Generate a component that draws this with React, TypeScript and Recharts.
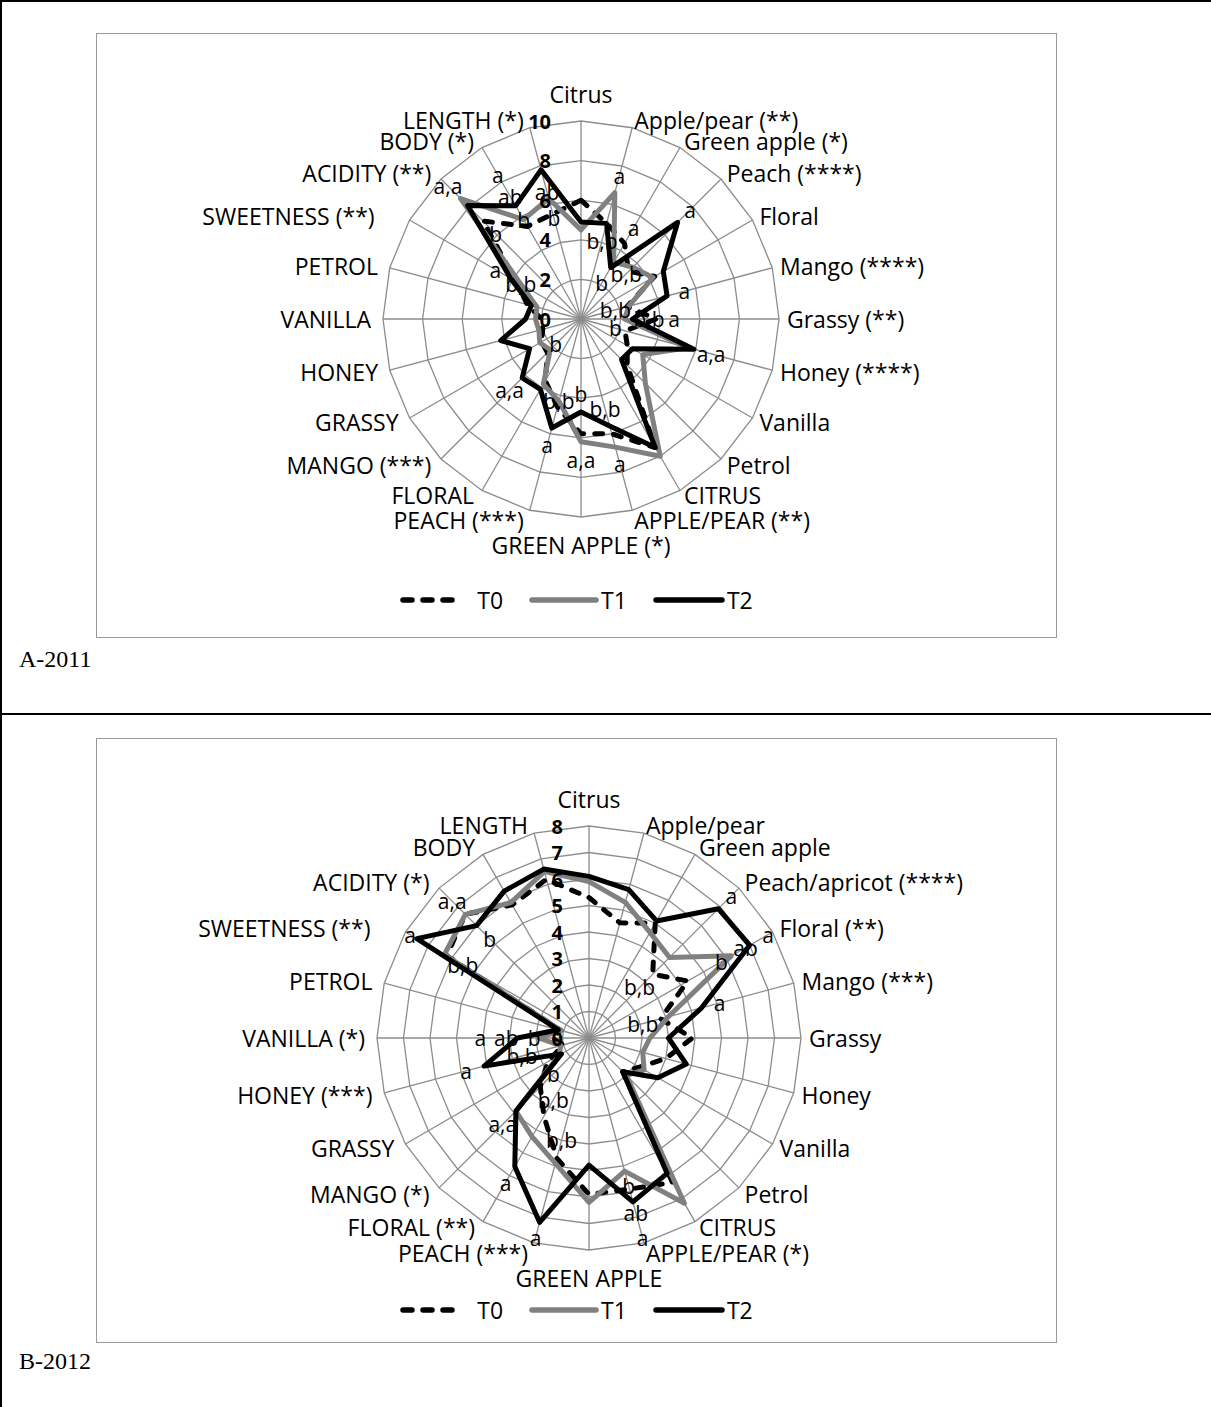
import React from 'react';
import { RadarChart, Radar, PolarGrid, PolarAngleAxis, PolarRadiusAxis, Legend } from 'recharts';

const FONT = "'Open Sans', sans-serif";

// ---- A-2011 ----
const AXES_2011 = ['Citrus', 'Apple/pear (**)', 'Green apple (*)', 'Peach (****)', 'Floral', 'Mango (****)', 'Grassy (**)', 'Honey (****)', 'Vanilla', 'Petrol', 'CITRUS', 'APPLE/PEAR (**)', 'GREEN APPLE (*)', 'PEACH (***)', 'FLORAL', 'MANGO (***)', 'GRASSY', 'HONEY', 'VANILLA', 'PETROL', 'SWEETNESS (**)', 'ACIDITY (**)', 'BODY (*)', 'LENGTH (*)'];
const T0_2011 = [6.0, 5.0, 4.4, 3.4, 4.3, 2.4, 3.8, 2.3, 2.7, 3.3, 7.5, 6.0, 5.8, 4.6, 3.6, 2.4, 2.3, 2.0, 2.0, 2.8, 3.8, 7.0, 5.4, 5.5];
const T1_2011 = [4.5, 6.6, 3.3, 3.7, 4.2, 2.5, 2.2, 5.6, 3.6, 4.6, 8.0, 6.7, 6.2, 4.3, 3.8, 2.2, 2.4, 2.2, 2.3, 2.3, 3.5, 8.6, 5.8, 6.3];
const T2_2011 = [4.9, 5.0, 3.0, 6.9, 4.8, 4.5, 2.6, 5.9, 3.0, 2.9, 7.5, 5.6, 4.7, 5.7, 4.1, 4.2, 3.0, 4.2, 2.8, 2.6, 4.1, 8.1, 6.6, 7.8];
const HI_2011 = ['', 'a', 'a', 'a', '', 'a', 'a', 'a,a', '', '', '', 'a', 'a,a', 'a', '', 'a,a', '', '', '', '', 'a', 'a,a', 'a', ''];
const MID_2011 = ['', '', '', '', '', '', '', '', '', '', '', '', '', '', '', '', '', '', '', '', '', '', 'ab', 'ab'];
const LO_2011 = ['', 'b,b', 'b', 'b,b', '', 'b,b', 'b,b', 'b', '', '', '', 'b,b', 'b', 'b,b', '', 'b', '', '', '', '', 'b,b', 'b', 'b', 'b'];
const TICKS_2011 = [0, 2, 4, 6, 8, 10];

// ---- B-2012 ----
const AXES_2012 = ['Citrus', 'Apple/pear', 'Green apple', 'Peach/apricot (****)', 'Floral (**)', 'Mango (***)', 'Grassy', 'Honey', 'Vanilla', 'Petrol', 'CITRUS', 'APPLE/PEAR (*)', 'GREEN APPLE', 'PEACH (***)', 'FLORAL (**)', 'MANGO (*)', 'GRASSY', 'HONEY (***)', 'VANILLA (*)', 'PETROL', 'SWEETNESS (**)', 'ACIDITY (*)', 'BODY', 'LENGTH'];
const T0_2012 = [5.3, 4.5, 5.0, 3.4, 4.3, 2.8, 3.9, 3.0, 2.2, 1.8, 6.3, 5.9, 5.9, 4.7, 3.4, 2.6, 1.8, 1.0, 1.4, 1.1, 6.2, 6.6, 5.8, 6.2];
const T1_2012 = [5.9, 5.3, 4.6, 4.3, 6.2, 3.1, 2.3, 2.1, 2.4, 2.0, 7.2, 5.2, 6.2, 4.9, 4.3, 3.9, 1.3, 1.1, 1.9, 1.1, 6.3, 6.6, 5.9, 6.5];
const T2_2012 = [6.1, 5.8, 5.1, 6.9, 7.0, 4.4, 3.0, 3.8, 3.0, 1.8, 5.9, 6.4, 4.8, 7.2, 5.6, 3.9, 1.2, 4.1, 2.7, 1.2, 7.5, 6.0, 6.4, 6.6];
const HI_2012 = ['', '', '', 'a', 'a', 'a', '', '', '', '', '', 'a', '', 'a', 'a', 'a,a', '', 'a', 'a', '', 'a', 'a,a', '', ''];
const MID_2012 = ['', '', '', '', 'ab', '', '', '', '', '', '', 'ab', '', '', '', '', '', '', 'ab', '', '', '', '', ''];
const LO_2012 = ['', '', '', 'b,b', 'b', 'b,b', '', '', '', '', '', 'b', '', 'b,b', 'b,b', 'b', '', 'b,b', 'b', '', 'b,b', 'b', '', ''];
const TICKS_2012 = [0, 1, 2, 3, 4, 5, 6, 7, 8];

type Box = { x: number; y: number; w: number; h: number };
const hit = (a: Box, b: Box) => Math.abs(a.x - b.x) * 2 < a.w + b.w && Math.abs(a.y - b.y) * 2 < a.h + b.h;
const letterBox = (txt: string, i: number, r: number, ppu: number, n: number): Box => {
  const th = (i * 2 * Math.PI) / n;
  return { x: Math.sin(th) * r * ppu, y: -Math.cos(th) * r * ppu, w: txt.length * 10 + 2, h: 17 };
};

// letter positions follow the series values: above the highest, below the lowest,
// low letters nudged outward when they would collide with another letter or a tick label
function buildRows(axes: string[], t0: number[], t1: number[], t2: number[], hi: string[], mid: string[], lo: string[], g: number, ceil: number, floor: number, ppu: number, ticks: number[], tickShift: number) {
  const n = axes.length;
  const step = 0.15 * (ceil / 8);
  const placed: Box[] = ticks.map((v) => ({ x: tickShift - 6 * String(v).length, y: -v * ppu, w: 12 * String(v).length, h: 18 }));
  const rows = axes.map((axis, i) => {
    const vals = [t0[i], t1[i], t2[i]];
    const mx = Math.max(...vals);
    const mn = Math.min(...vals);
    let hiPos = Math.min(ceil, mx + g);
    let midPos = 0;
    let loPos = Math.max(floor, mn - g);
    if (mid[i]) {
      if (hi[i]) {
        hiPos = Math.min(ceil, mx + 2 * g);
        midPos = hiPos - 1.4 * g;
      } else {
        midPos = mx - 1.3 * g;
      }
      loPos = midPos - 1.5 * g;
      placed.push(letterBox(mid[i], i, midPos, ppu, n));
    }
    if (hi[i]) placed.push(letterBox(hi[i], i, hiPos, ppu, n));
    return { axis, T0: t0[i], T1: t1[i], T2: t2[i], hiPos, midPos, loPos, hiText: hi[i], midText: mid[i], loText: lo[i] };
  });
  rows.forEach((row, i) => {
    if (!row.loText) return;
    const start = row.loPos;
    for (let k = 0; k < 14; k++) {
      const r = start + k * step;
      const b = letterBox(row.loText, i, r, ppu, n);
      if (!placed.some((p) => hit(p, b)) || k === 13) {
        row.loPos = r;
        placed.push(b);
        break;
      }
    }
  });
  return rows;
}

const rows2011 = buildRows(AXES_2011, T0_2011, T1_2011, T2_2011, HI_2011, MID_2011, LO_2011, 0.9, 9.7, 1.8, 198 / 10, TICKS_2011, -30);
const rows2012 = buildRows(AXES_2012, T0_2012, T1_2012, T2_2012, HI_2012, MID_2012, LO_2012, 0.7, 7.8, 1.3, 212 / 8, TICKS_2012, -26);

const AngleTick = (props: any) => {
  const { x, y, textAnchor, payload, index } = props;
  let dy = 0;
  let dx = 0;
  if (textAnchor === 'middle') dy = index === 0 ? -19 : 20;
  if (textAnchor === 'end') dx = index === 20 ? -28 : -4;
  // the stacked pairs near the bottom sit a little further apart
  if (index === 10 || index === 14) dy = -2;
  if (index === 11 || index === 13) dy = 2;
  return (
    <text x={x + dx} y={y + dy} textAnchor={textAnchor} dominantBaseline="central" fontFamily={FONT} fontSize={23} fill="#000">
      {payload.value}
    </text>
  );
};

const makeRadiusTick = (shift: number) => (props: any) => (
  <text x={props.x + shift} y={props.y} textAnchor="end" dominantBaseline="central" fontFamily={FONT} fontSize={20} fontWeight={700} fill="#000">
    {props.payload.value}
  </text>
);

const makeLetterDot = (textKey: string) => (p: any) => {
  const row = p.payload && p.payload.payload ? p.payload.payload : p.payload;
  const txt = row ? row[textKey] : '';
  if (!txt) return <g key={p.key} />;
  return (
    <text key={p.key} x={p.cx} y={p.cy} textAnchor="middle" dominantBaseline="central" fontFamily={FONT} fontSize={21} fill="#000">
      {txt}
    </text>
  );
};

const LegendContent = () => (
  <div style={{ display: 'flex', justifyContent: 'center', alignItems: 'center', fontFamily: FONT, fontSize: 23, color: '#000' }}>
    <svg width={66} height={10}>
      <line x1={4} y1={5} x2={62} y2={5} stroke="#000" strokeWidth={5.5} strokeDasharray="9 11" strokeLinecap="round" />
    </svg>
    <span style={{ marginLeft: 12, marginRight: 26 }}>T0</span>
    <svg width={70} height={10}>
      <line x1={3} y1={5} x2={67} y2={5} stroke="#808080" strokeWidth={5.5} strokeLinecap="round" />
    </svg>
    <span style={{ marginLeft: 2, marginRight: 26 }}>T1</span>
    <svg width={72} height={10}>
      <line x1={3} y1={5} x2={69} y2={5} stroke="#000" strokeWidth={5.5} strokeLinecap="round" />
    </svg>
    <span style={{ marginLeft: 2 }}>T2</span>
  </div>
);

type PanelProps = {
  rows: any[];
  max: number;
  ticks: number[];
  cx: number;
  cy: number;
  radius: number;
  width: number;
  height: number;
  legendTop: number;
  tickShift: number;
};

function SensoryRadar({ rows, max, ticks, cx, cy, radius, width, height, legendTop, tickShift }: PanelProps) {
  return (
    <RadarChart width={width} height={height} data={rows} cx={cx} cy={cy} outerRadius={radius} startAngle={90} endAngle={-270} margin={{ top: 0, right: 0, bottom: 0, left: 0 }}>
      <PolarGrid gridType="polygon" stroke="#8c8c8c" strokeWidth={1.3} />
      <PolarAngleAxis dataKey="axis" tick={AngleTick} tickLine={false} axisLine={false} />
      <PolarRadiusAxis angle={90} domain={[0, max]} tickCount={ticks.length} allowDataOverflow tick={makeRadiusTick(tickShift)} axisLine={false} tickLine={false} />
      <Radar name="T0" dataKey="T0" stroke="#000" strokeWidth={5} strokeDasharray="8 11" strokeLinecap="round" strokeLinejoin="round" fill="none" fillOpacity={0} dot={false} isAnimationActive={false} />
      <Radar name="T1" dataKey="T1" stroke="#808080" strokeWidth={5} strokeLinejoin="round" fill="none" fillOpacity={0} dot={false} isAnimationActive={false} />
      <Radar name="T2" dataKey="T2" stroke="#000" strokeWidth={5} strokeLinejoin="round" fill="none" fillOpacity={0} dot={false} isAnimationActive={false} />
      <Radar dataKey="hiPos" stroke="none" fill="none" fillOpacity={0} legendType="none" dot={makeLetterDot('hiText')} activeDot={false} isAnimationActive={false} />
      <Radar dataKey="midPos" stroke="none" fill="none" fillOpacity={0} legendType="none" dot={makeLetterDot('midText')} activeDot={false} isAnimationActive={false} />
      <Radar dataKey="loPos" stroke="none" fill="none" fillOpacity={0} legendType="none" dot={makeLetterDot('loText')} activeDot={false} isAnimationActive={false} />
      <Legend verticalAlign="bottom" content={LegendContent} wrapperStyle={{ top: legendTop, bottom: 'auto', left: 0, width: '100%' }} />
    </RadarChart>
  );
}

const boxStyle = (top: number): React.CSSProperties => ({
  position: 'absolute',
  left: 96,
  top,
  width: 961,
  height: 605,
  border: '1.5px solid #9a9a9a',
  boxSizing: 'border-box',
  background: '#fff',
});

export default function App() {
  return (
    <div style={{ position: 'absolute', left: 0, top: 0, width: 1211, height: 1407, background: '#fff', overflow: 'hidden' }}>
      <div style={{ position: 'absolute', left: 0, top: 0, width: 2, height: 1407, background: '#000' }} />
      <div style={{ position: 'absolute', left: 0, top: 0, width: 1211, height: 2, background: '#000' }} />
      <div style={{ position: 'absolute', left: 0, top: 713, width: 1211, height: 2, background: '#000' }} />

      <div style={boxStyle(33)}>
        <SensoryRadar rows={rows2011} max={10} ticks={TICKS_2011} cx={484} cy={285} radius={198} width={958} height={602} legendTop={550} tickShift={-30} />
      </div>
      <div style={{ position: 'absolute', left: 19, top: 646, fontFamily: "'Liberation Serif', serif", fontSize: 24 }}>A-2011</div>

      <div style={boxStyle(738)}>
        <SensoryRadar rows={rows2012} max={8} ticks={TICKS_2012} cx={492} cy={299} radius={212} width={958} height={602} legendTop={555} tickShift={-26} />
      </div>
      <div style={{ position: 'absolute', left: 19, top: 1348, fontFamily: "'Liberation Serif', serif", fontSize: 24 }}>B-2012</div>
    </div>
  );
}
